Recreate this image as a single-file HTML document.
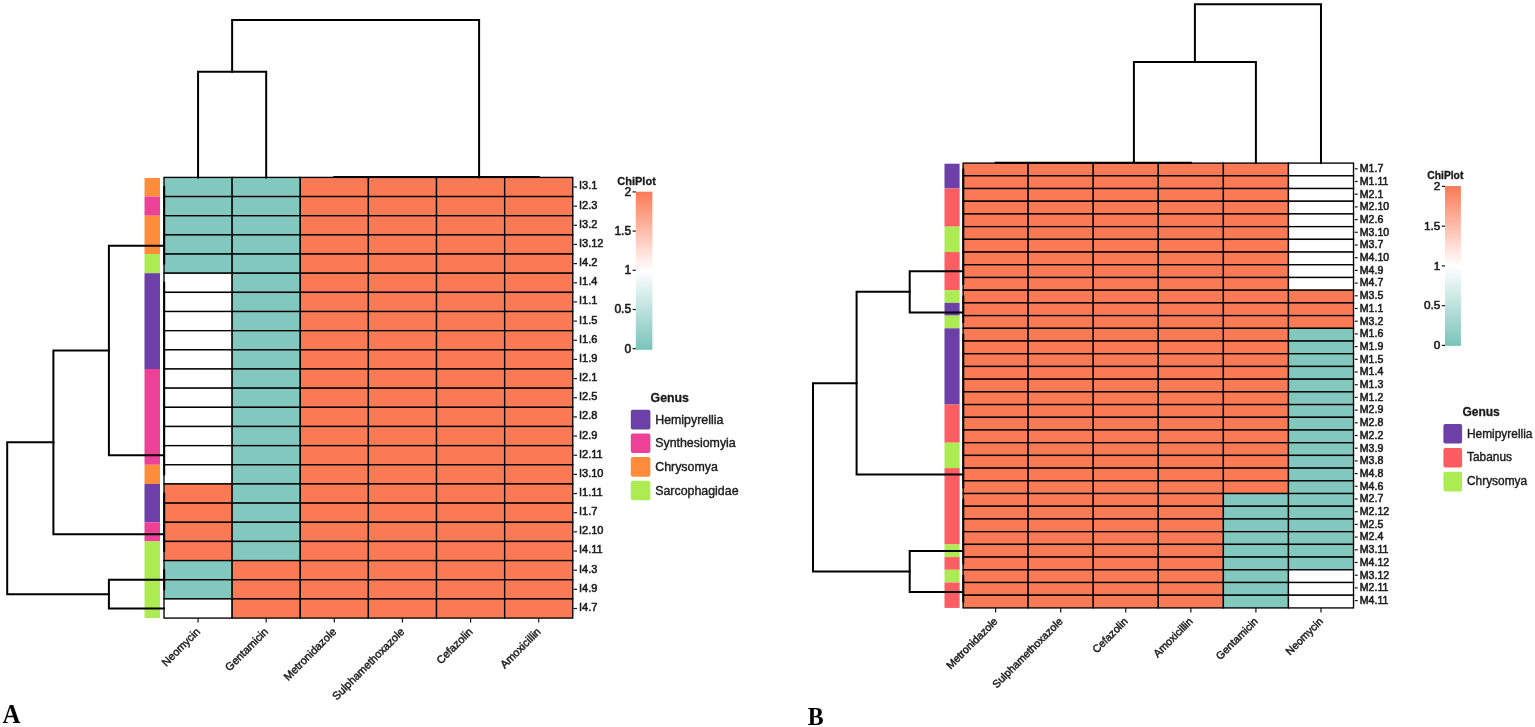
<!DOCTYPE html>
<html><head><meta charset="utf-8"><title>Heatmaps</title>
<style>
html,body{margin:0;padding:0;background:#fff;}
svg{display:block;font-family:"Liberation Sans",sans-serif;}
text{fill:#1a1a1a;stroke:#1a1a1a;stroke-width:0.45px;}
.r{stroke-width:0.55px;}
.l{stroke-width:0.38px;}
text[font-weight=bold]{stroke-width:0.3px;}
</style></head><body>
<svg width="1535" height="727" viewBox="0 0 1535 727">
<defs><linearGradient id="cg" x1="0" y1="0" x2="0" y2="1"><stop offset="0" stop-color="#FB7A56"/><stop offset="0.5" stop-color="#fff"/><stop offset="1" stop-color="#79C4BA"/></linearGradient></defs>
<rect width="1535" height="727" fill="#fff"/>
<rect x="164.00" y="177.40" width="68.13" height="19.16" fill="#82C8BF" stroke="#000" stroke-width="1.35"/>
<rect x="232.13" y="177.40" width="68.13" height="19.16" fill="#82C8BF" stroke="#000" stroke-width="1.35"/>
<rect x="300.26" y="177.40" width="68.13" height="19.16" fill="#FB7A56" stroke="#000" stroke-width="1.35"/>
<rect x="368.39" y="177.40" width="68.13" height="19.16" fill="#FB7A56" stroke="#000" stroke-width="1.35"/>
<rect x="436.52" y="177.40" width="68.13" height="19.16" fill="#FB7A56" stroke="#000" stroke-width="1.35"/>
<rect x="504.65" y="177.40" width="68.13" height="19.16" fill="#FB7A56" stroke="#000" stroke-width="1.35"/>
<rect x="164.00" y="196.56" width="68.13" height="19.16" fill="#82C8BF" stroke="#000" stroke-width="1.35"/>
<rect x="232.13" y="196.56" width="68.13" height="19.16" fill="#82C8BF" stroke="#000" stroke-width="1.35"/>
<rect x="300.26" y="196.56" width="68.13" height="19.16" fill="#FB7A56" stroke="#000" stroke-width="1.35"/>
<rect x="368.39" y="196.56" width="68.13" height="19.16" fill="#FB7A56" stroke="#000" stroke-width="1.35"/>
<rect x="436.52" y="196.56" width="68.13" height="19.16" fill="#FB7A56" stroke="#000" stroke-width="1.35"/>
<rect x="504.65" y="196.56" width="68.13" height="19.16" fill="#FB7A56" stroke="#000" stroke-width="1.35"/>
<rect x="164.00" y="215.72" width="68.13" height="19.16" fill="#82C8BF" stroke="#000" stroke-width="1.35"/>
<rect x="232.13" y="215.72" width="68.13" height="19.16" fill="#82C8BF" stroke="#000" stroke-width="1.35"/>
<rect x="300.26" y="215.72" width="68.13" height="19.16" fill="#FB7A56" stroke="#000" stroke-width="1.35"/>
<rect x="368.39" y="215.72" width="68.13" height="19.16" fill="#FB7A56" stroke="#000" stroke-width="1.35"/>
<rect x="436.52" y="215.72" width="68.13" height="19.16" fill="#FB7A56" stroke="#000" stroke-width="1.35"/>
<rect x="504.65" y="215.72" width="68.13" height="19.16" fill="#FB7A56" stroke="#000" stroke-width="1.35"/>
<rect x="164.00" y="234.88" width="68.13" height="19.16" fill="#82C8BF" stroke="#000" stroke-width="1.35"/>
<rect x="232.13" y="234.88" width="68.13" height="19.16" fill="#82C8BF" stroke="#000" stroke-width="1.35"/>
<rect x="300.26" y="234.88" width="68.13" height="19.16" fill="#FB7A56" stroke="#000" stroke-width="1.35"/>
<rect x="368.39" y="234.88" width="68.13" height="19.16" fill="#FB7A56" stroke="#000" stroke-width="1.35"/>
<rect x="436.52" y="234.88" width="68.13" height="19.16" fill="#FB7A56" stroke="#000" stroke-width="1.35"/>
<rect x="504.65" y="234.88" width="68.13" height="19.16" fill="#FB7A56" stroke="#000" stroke-width="1.35"/>
<rect x="164.00" y="254.04" width="68.13" height="19.16" fill="#82C8BF" stroke="#000" stroke-width="1.35"/>
<rect x="232.13" y="254.04" width="68.13" height="19.16" fill="#82C8BF" stroke="#000" stroke-width="1.35"/>
<rect x="300.26" y="254.04" width="68.13" height="19.16" fill="#FB7A56" stroke="#000" stroke-width="1.35"/>
<rect x="368.39" y="254.04" width="68.13" height="19.16" fill="#FB7A56" stroke="#000" stroke-width="1.35"/>
<rect x="436.52" y="254.04" width="68.13" height="19.16" fill="#FB7A56" stroke="#000" stroke-width="1.35"/>
<rect x="504.65" y="254.04" width="68.13" height="19.16" fill="#FB7A56" stroke="#000" stroke-width="1.35"/>
<rect x="164.00" y="273.20" width="68.13" height="19.16" fill="#FFFFFF" stroke="#000" stroke-width="1.35"/>
<rect x="232.13" y="273.20" width="68.13" height="19.16" fill="#82C8BF" stroke="#000" stroke-width="1.35"/>
<rect x="300.26" y="273.20" width="68.13" height="19.16" fill="#FB7A56" stroke="#000" stroke-width="1.35"/>
<rect x="368.39" y="273.20" width="68.13" height="19.16" fill="#FB7A56" stroke="#000" stroke-width="1.35"/>
<rect x="436.52" y="273.20" width="68.13" height="19.16" fill="#FB7A56" stroke="#000" stroke-width="1.35"/>
<rect x="504.65" y="273.20" width="68.13" height="19.16" fill="#FB7A56" stroke="#000" stroke-width="1.35"/>
<rect x="164.00" y="292.36" width="68.13" height="19.16" fill="#FFFFFF" stroke="#000" stroke-width="1.35"/>
<rect x="232.13" y="292.36" width="68.13" height="19.16" fill="#82C8BF" stroke="#000" stroke-width="1.35"/>
<rect x="300.26" y="292.36" width="68.13" height="19.16" fill="#FB7A56" stroke="#000" stroke-width="1.35"/>
<rect x="368.39" y="292.36" width="68.13" height="19.16" fill="#FB7A56" stroke="#000" stroke-width="1.35"/>
<rect x="436.52" y="292.36" width="68.13" height="19.16" fill="#FB7A56" stroke="#000" stroke-width="1.35"/>
<rect x="504.65" y="292.36" width="68.13" height="19.16" fill="#FB7A56" stroke="#000" stroke-width="1.35"/>
<rect x="164.00" y="311.52" width="68.13" height="19.16" fill="#FFFFFF" stroke="#000" stroke-width="1.35"/>
<rect x="232.13" y="311.52" width="68.13" height="19.16" fill="#82C8BF" stroke="#000" stroke-width="1.35"/>
<rect x="300.26" y="311.52" width="68.13" height="19.16" fill="#FB7A56" stroke="#000" stroke-width="1.35"/>
<rect x="368.39" y="311.52" width="68.13" height="19.16" fill="#FB7A56" stroke="#000" stroke-width="1.35"/>
<rect x="436.52" y="311.52" width="68.13" height="19.16" fill="#FB7A56" stroke="#000" stroke-width="1.35"/>
<rect x="504.65" y="311.52" width="68.13" height="19.16" fill="#FB7A56" stroke="#000" stroke-width="1.35"/>
<rect x="164.00" y="330.68" width="68.13" height="19.16" fill="#FFFFFF" stroke="#000" stroke-width="1.35"/>
<rect x="232.13" y="330.68" width="68.13" height="19.16" fill="#82C8BF" stroke="#000" stroke-width="1.35"/>
<rect x="300.26" y="330.68" width="68.13" height="19.16" fill="#FB7A56" stroke="#000" stroke-width="1.35"/>
<rect x="368.39" y="330.68" width="68.13" height="19.16" fill="#FB7A56" stroke="#000" stroke-width="1.35"/>
<rect x="436.52" y="330.68" width="68.13" height="19.16" fill="#FB7A56" stroke="#000" stroke-width="1.35"/>
<rect x="504.65" y="330.68" width="68.13" height="19.16" fill="#FB7A56" stroke="#000" stroke-width="1.35"/>
<rect x="164.00" y="349.84" width="68.13" height="19.16" fill="#FFFFFF" stroke="#000" stroke-width="1.35"/>
<rect x="232.13" y="349.84" width="68.13" height="19.16" fill="#82C8BF" stroke="#000" stroke-width="1.35"/>
<rect x="300.26" y="349.84" width="68.13" height="19.16" fill="#FB7A56" stroke="#000" stroke-width="1.35"/>
<rect x="368.39" y="349.84" width="68.13" height="19.16" fill="#FB7A56" stroke="#000" stroke-width="1.35"/>
<rect x="436.52" y="349.84" width="68.13" height="19.16" fill="#FB7A56" stroke="#000" stroke-width="1.35"/>
<rect x="504.65" y="349.84" width="68.13" height="19.16" fill="#FB7A56" stroke="#000" stroke-width="1.35"/>
<rect x="164.00" y="369.00" width="68.13" height="19.16" fill="#FFFFFF" stroke="#000" stroke-width="1.35"/>
<rect x="232.13" y="369.00" width="68.13" height="19.16" fill="#82C8BF" stroke="#000" stroke-width="1.35"/>
<rect x="300.26" y="369.00" width="68.13" height="19.16" fill="#FB7A56" stroke="#000" stroke-width="1.35"/>
<rect x="368.39" y="369.00" width="68.13" height="19.16" fill="#FB7A56" stroke="#000" stroke-width="1.35"/>
<rect x="436.52" y="369.00" width="68.13" height="19.16" fill="#FB7A56" stroke="#000" stroke-width="1.35"/>
<rect x="504.65" y="369.00" width="68.13" height="19.16" fill="#FB7A56" stroke="#000" stroke-width="1.35"/>
<rect x="164.00" y="388.16" width="68.13" height="19.16" fill="#FFFFFF" stroke="#000" stroke-width="1.35"/>
<rect x="232.13" y="388.16" width="68.13" height="19.16" fill="#82C8BF" stroke="#000" stroke-width="1.35"/>
<rect x="300.26" y="388.16" width="68.13" height="19.16" fill="#FB7A56" stroke="#000" stroke-width="1.35"/>
<rect x="368.39" y="388.16" width="68.13" height="19.16" fill="#FB7A56" stroke="#000" stroke-width="1.35"/>
<rect x="436.52" y="388.16" width="68.13" height="19.16" fill="#FB7A56" stroke="#000" stroke-width="1.35"/>
<rect x="504.65" y="388.16" width="68.13" height="19.16" fill="#FB7A56" stroke="#000" stroke-width="1.35"/>
<rect x="164.00" y="407.32" width="68.13" height="19.16" fill="#FFFFFF" stroke="#000" stroke-width="1.35"/>
<rect x="232.13" y="407.32" width="68.13" height="19.16" fill="#82C8BF" stroke="#000" stroke-width="1.35"/>
<rect x="300.26" y="407.32" width="68.13" height="19.16" fill="#FB7A56" stroke="#000" stroke-width="1.35"/>
<rect x="368.39" y="407.32" width="68.13" height="19.16" fill="#FB7A56" stroke="#000" stroke-width="1.35"/>
<rect x="436.52" y="407.32" width="68.13" height="19.16" fill="#FB7A56" stroke="#000" stroke-width="1.35"/>
<rect x="504.65" y="407.32" width="68.13" height="19.16" fill="#FB7A56" stroke="#000" stroke-width="1.35"/>
<rect x="164.00" y="426.48" width="68.13" height="19.16" fill="#FFFFFF" stroke="#000" stroke-width="1.35"/>
<rect x="232.13" y="426.48" width="68.13" height="19.16" fill="#82C8BF" stroke="#000" stroke-width="1.35"/>
<rect x="300.26" y="426.48" width="68.13" height="19.16" fill="#FB7A56" stroke="#000" stroke-width="1.35"/>
<rect x="368.39" y="426.48" width="68.13" height="19.16" fill="#FB7A56" stroke="#000" stroke-width="1.35"/>
<rect x="436.52" y="426.48" width="68.13" height="19.16" fill="#FB7A56" stroke="#000" stroke-width="1.35"/>
<rect x="504.65" y="426.48" width="68.13" height="19.16" fill="#FB7A56" stroke="#000" stroke-width="1.35"/>
<rect x="164.00" y="445.64" width="68.13" height="19.16" fill="#FFFFFF" stroke="#000" stroke-width="1.35"/>
<rect x="232.13" y="445.64" width="68.13" height="19.16" fill="#82C8BF" stroke="#000" stroke-width="1.35"/>
<rect x="300.26" y="445.64" width="68.13" height="19.16" fill="#FB7A56" stroke="#000" stroke-width="1.35"/>
<rect x="368.39" y="445.64" width="68.13" height="19.16" fill="#FB7A56" stroke="#000" stroke-width="1.35"/>
<rect x="436.52" y="445.64" width="68.13" height="19.16" fill="#FB7A56" stroke="#000" stroke-width="1.35"/>
<rect x="504.65" y="445.64" width="68.13" height="19.16" fill="#FB7A56" stroke="#000" stroke-width="1.35"/>
<rect x="164.00" y="464.80" width="68.13" height="19.16" fill="#FFFFFF" stroke="#000" stroke-width="1.35"/>
<rect x="232.13" y="464.80" width="68.13" height="19.16" fill="#82C8BF" stroke="#000" stroke-width="1.35"/>
<rect x="300.26" y="464.80" width="68.13" height="19.16" fill="#FB7A56" stroke="#000" stroke-width="1.35"/>
<rect x="368.39" y="464.80" width="68.13" height="19.16" fill="#FB7A56" stroke="#000" stroke-width="1.35"/>
<rect x="436.52" y="464.80" width="68.13" height="19.16" fill="#FB7A56" stroke="#000" stroke-width="1.35"/>
<rect x="504.65" y="464.80" width="68.13" height="19.16" fill="#FB7A56" stroke="#000" stroke-width="1.35"/>
<rect x="164.00" y="483.96" width="68.13" height="19.16" fill="#FB7A56" stroke="#000" stroke-width="1.35"/>
<rect x="232.13" y="483.96" width="68.13" height="19.16" fill="#82C8BF" stroke="#000" stroke-width="1.35"/>
<rect x="300.26" y="483.96" width="68.13" height="19.16" fill="#FB7A56" stroke="#000" stroke-width="1.35"/>
<rect x="368.39" y="483.96" width="68.13" height="19.16" fill="#FB7A56" stroke="#000" stroke-width="1.35"/>
<rect x="436.52" y="483.96" width="68.13" height="19.16" fill="#FB7A56" stroke="#000" stroke-width="1.35"/>
<rect x="504.65" y="483.96" width="68.13" height="19.16" fill="#FB7A56" stroke="#000" stroke-width="1.35"/>
<rect x="164.00" y="503.12" width="68.13" height="19.16" fill="#FB7A56" stroke="#000" stroke-width="1.35"/>
<rect x="232.13" y="503.12" width="68.13" height="19.16" fill="#82C8BF" stroke="#000" stroke-width="1.35"/>
<rect x="300.26" y="503.12" width="68.13" height="19.16" fill="#FB7A56" stroke="#000" stroke-width="1.35"/>
<rect x="368.39" y="503.12" width="68.13" height="19.16" fill="#FB7A56" stroke="#000" stroke-width="1.35"/>
<rect x="436.52" y="503.12" width="68.13" height="19.16" fill="#FB7A56" stroke="#000" stroke-width="1.35"/>
<rect x="504.65" y="503.12" width="68.13" height="19.16" fill="#FB7A56" stroke="#000" stroke-width="1.35"/>
<rect x="164.00" y="522.28" width="68.13" height="19.16" fill="#FB7A56" stroke="#000" stroke-width="1.35"/>
<rect x="232.13" y="522.28" width="68.13" height="19.16" fill="#82C8BF" stroke="#000" stroke-width="1.35"/>
<rect x="300.26" y="522.28" width="68.13" height="19.16" fill="#FB7A56" stroke="#000" stroke-width="1.35"/>
<rect x="368.39" y="522.28" width="68.13" height="19.16" fill="#FB7A56" stroke="#000" stroke-width="1.35"/>
<rect x="436.52" y="522.28" width="68.13" height="19.16" fill="#FB7A56" stroke="#000" stroke-width="1.35"/>
<rect x="504.65" y="522.28" width="68.13" height="19.16" fill="#FB7A56" stroke="#000" stroke-width="1.35"/>
<rect x="164.00" y="541.44" width="68.13" height="19.16" fill="#FB7A56" stroke="#000" stroke-width="1.35"/>
<rect x="232.13" y="541.44" width="68.13" height="19.16" fill="#82C8BF" stroke="#000" stroke-width="1.35"/>
<rect x="300.26" y="541.44" width="68.13" height="19.16" fill="#FB7A56" stroke="#000" stroke-width="1.35"/>
<rect x="368.39" y="541.44" width="68.13" height="19.16" fill="#FB7A56" stroke="#000" stroke-width="1.35"/>
<rect x="436.52" y="541.44" width="68.13" height="19.16" fill="#FB7A56" stroke="#000" stroke-width="1.35"/>
<rect x="504.65" y="541.44" width="68.13" height="19.16" fill="#FB7A56" stroke="#000" stroke-width="1.35"/>
<rect x="164.00" y="560.60" width="68.13" height="19.16" fill="#82C8BF" stroke="#000" stroke-width="1.35"/>
<rect x="232.13" y="560.60" width="68.13" height="19.16" fill="#FB7A56" stroke="#000" stroke-width="1.35"/>
<rect x="300.26" y="560.60" width="68.13" height="19.16" fill="#FB7A56" stroke="#000" stroke-width="1.35"/>
<rect x="368.39" y="560.60" width="68.13" height="19.16" fill="#FB7A56" stroke="#000" stroke-width="1.35"/>
<rect x="436.52" y="560.60" width="68.13" height="19.16" fill="#FB7A56" stroke="#000" stroke-width="1.35"/>
<rect x="504.65" y="560.60" width="68.13" height="19.16" fill="#FB7A56" stroke="#000" stroke-width="1.35"/>
<rect x="164.00" y="579.76" width="68.13" height="19.16" fill="#82C8BF" stroke="#000" stroke-width="1.35"/>
<rect x="232.13" y="579.76" width="68.13" height="19.16" fill="#FB7A56" stroke="#000" stroke-width="1.35"/>
<rect x="300.26" y="579.76" width="68.13" height="19.16" fill="#FB7A56" stroke="#000" stroke-width="1.35"/>
<rect x="368.39" y="579.76" width="68.13" height="19.16" fill="#FB7A56" stroke="#000" stroke-width="1.35"/>
<rect x="436.52" y="579.76" width="68.13" height="19.16" fill="#FB7A56" stroke="#000" stroke-width="1.35"/>
<rect x="504.65" y="579.76" width="68.13" height="19.16" fill="#FB7A56" stroke="#000" stroke-width="1.35"/>
<rect x="164.00" y="598.92" width="68.13" height="19.16" fill="#FFFFFF" stroke="#000" stroke-width="1.35"/>
<rect x="232.13" y="598.92" width="68.13" height="19.16" fill="#FB7A56" stroke="#000" stroke-width="1.35"/>
<rect x="300.26" y="598.92" width="68.13" height="19.16" fill="#FB7A56" stroke="#000" stroke-width="1.35"/>
<rect x="368.39" y="598.92" width="68.13" height="19.16" fill="#FB7A56" stroke="#000" stroke-width="1.35"/>
<rect x="436.52" y="598.92" width="68.13" height="19.16" fill="#FB7A56" stroke="#000" stroke-width="1.35"/>
<rect x="504.65" y="598.92" width="68.13" height="19.16" fill="#FB7A56" stroke="#000" stroke-width="1.35"/>
<rect x="144.5" y="178.00" width="15.5" height="18.56" fill="#FF8C3A"/>
<rect x="144.5" y="196.56" width="15.5" height="19.16" fill="#EC4197"/>
<rect x="144.5" y="215.72" width="15.5" height="38.32" fill="#FF8C3A"/>
<rect x="144.5" y="254.04" width="15.5" height="19.16" fill="#ADEB52"/>
<rect x="144.5" y="273.20" width="15.5" height="95.80" fill="#6C3FA9"/>
<rect x="144.5" y="369.00" width="15.5" height="95.80" fill="#EC4197"/>
<rect x="144.5" y="464.80" width="15.5" height="19.16" fill="#FF8C3A"/>
<rect x="144.5" y="483.96" width="15.5" height="38.32" fill="#6C3FA9"/>
<rect x="144.5" y="522.28" width="15.5" height="19.16" fill="#EC4197"/>
<rect x="144.5" y="541.44" width="15.5" height="76.64" fill="#ADEB52"/>
<line x1="573.5" y1="186.98" x2="577" y2="186.98" stroke="#151515" stroke-width="1.2"/>
<text x="579" y="189.44" font-size="11" class="r">I3.1</text>
<line x1="573.5" y1="206.14" x2="577" y2="206.14" stroke="#151515" stroke-width="1.2"/>
<text x="579" y="208.60" font-size="11" class="r">I2.3</text>
<line x1="573.5" y1="225.30" x2="577" y2="225.30" stroke="#151515" stroke-width="1.2"/>
<text x="579" y="227.76" font-size="11" class="r">I3.2</text>
<line x1="573.5" y1="244.46" x2="577" y2="244.46" stroke="#151515" stroke-width="1.2"/>
<text x="579" y="246.92" font-size="11" class="r">I3.12</text>
<line x1="573.5" y1="263.62" x2="577" y2="263.62" stroke="#151515" stroke-width="1.2"/>
<text x="579" y="266.08" font-size="11" class="r">I4.2</text>
<line x1="573.5" y1="282.78" x2="577" y2="282.78" stroke="#151515" stroke-width="1.2"/>
<text x="579" y="285.24" font-size="11" class="r">I1.4</text>
<line x1="573.5" y1="301.94" x2="577" y2="301.94" stroke="#151515" stroke-width="1.2"/>
<text x="579" y="304.40" font-size="11" class="r">I1.1</text>
<line x1="573.5" y1="321.10" x2="577" y2="321.10" stroke="#151515" stroke-width="1.2"/>
<text x="579" y="323.56" font-size="11" class="r">I1.5</text>
<line x1="573.5" y1="340.26" x2="577" y2="340.26" stroke="#151515" stroke-width="1.2"/>
<text x="579" y="342.72" font-size="11" class="r">I1.6</text>
<line x1="573.5" y1="359.42" x2="577" y2="359.42" stroke="#151515" stroke-width="1.2"/>
<text x="579" y="361.88" font-size="11" class="r">I1.9</text>
<line x1="573.5" y1="378.58" x2="577" y2="378.58" stroke="#151515" stroke-width="1.2"/>
<text x="579" y="381.04" font-size="11" class="r">I2.1</text>
<line x1="573.5" y1="397.74" x2="577" y2="397.74" stroke="#151515" stroke-width="1.2"/>
<text x="579" y="400.20" font-size="11" class="r">I2.5</text>
<line x1="573.5" y1="416.90" x2="577" y2="416.90" stroke="#151515" stroke-width="1.2"/>
<text x="579" y="419.36" font-size="11" class="r">I2.8</text>
<line x1="573.5" y1="436.06" x2="577" y2="436.06" stroke="#151515" stroke-width="1.2"/>
<text x="579" y="438.52" font-size="11" class="r">I2.9</text>
<line x1="573.5" y1="455.22" x2="577" y2="455.22" stroke="#151515" stroke-width="1.2"/>
<text x="579" y="457.68" font-size="11" class="r">I2.11</text>
<line x1="573.5" y1="474.38" x2="577" y2="474.38" stroke="#151515" stroke-width="1.2"/>
<text x="579" y="476.84" font-size="11" class="r">I3.10</text>
<line x1="573.5" y1="493.54" x2="577" y2="493.54" stroke="#151515" stroke-width="1.2"/>
<text x="579" y="496.00" font-size="11" class="r">I1.11</text>
<line x1="573.5" y1="512.70" x2="577" y2="512.70" stroke="#151515" stroke-width="1.2"/>
<text x="579" y="515.16" font-size="11" class="r">I1.7</text>
<line x1="573.5" y1="531.86" x2="577" y2="531.86" stroke="#151515" stroke-width="1.2"/>
<text x="579" y="534.32" font-size="11" class="r">I2.10</text>
<line x1="573.5" y1="551.02" x2="577" y2="551.02" stroke="#151515" stroke-width="1.2"/>
<text x="579" y="553.48" font-size="11" class="r">I4.11</text>
<line x1="573.5" y1="570.18" x2="577" y2="570.18" stroke="#151515" stroke-width="1.2"/>
<text x="579" y="572.64" font-size="11" class="r">I4.3</text>
<line x1="573.5" y1="589.34" x2="577" y2="589.34" stroke="#151515" stroke-width="1.2"/>
<text x="579" y="591.80" font-size="11" class="r">I4.9</text>
<line x1="573.5" y1="608.50" x2="577" y2="608.50" stroke="#151515" stroke-width="1.2"/>
<text x="579" y="610.96" font-size="11" class="r">I4.7</text>
<line x1="198.06" y1="618.08" x2="198.06" y2="622.58" stroke="#151515" stroke-width="1.2"/>
<text transform="translate(198.06,629.58) rotate(-45)" text-anchor="end" font-size="11" dy="0.35em">Neomycin</text>
<line x1="266.19" y1="618.08" x2="266.19" y2="622.58" stroke="#151515" stroke-width="1.2"/>
<text transform="translate(266.19,629.58) rotate(-45)" text-anchor="end" font-size="11" dy="0.35em">Gentamicin</text>
<line x1="334.32" y1="618.08" x2="334.32" y2="622.58" stroke="#151515" stroke-width="1.2"/>
<text transform="translate(334.32,629.58) rotate(-45)" text-anchor="end" font-size="11" dy="0.35em">Metronidazole</text>
<line x1="402.45" y1="618.08" x2="402.45" y2="622.58" stroke="#151515" stroke-width="1.2"/>
<text transform="translate(402.45,629.58) rotate(-45)" text-anchor="end" font-size="11" dy="0.35em">Sulphamethoxazole</text>
<line x1="470.58" y1="618.08" x2="470.58" y2="622.58" stroke="#151515" stroke-width="1.2"/>
<text transform="translate(470.58,629.58) rotate(-45)" text-anchor="end" font-size="11" dy="0.35em">Cefazolin</text>
<line x1="538.71" y1="618.08" x2="538.71" y2="622.58" stroke="#151515" stroke-width="1.2"/>
<text transform="translate(538.71,629.58) rotate(-45)" text-anchor="end" font-size="11" dy="0.35em">Amoxicillin</text>
<path d="M164.0,245.66 H108.9 V455.24 H164.0" fill="none" stroke="#000" stroke-width="2.0" stroke-linejoin="miter" stroke-linecap="square"/>
<path d="M108.9,350.45 H53.4 V534.25 H164.0" fill="none" stroke="#000" stroke-width="2.0" stroke-linejoin="miter" stroke-linecap="square"/>
<path d="M164.0,579.76 H108.9 V608.50 H164.0" fill="none" stroke="#000" stroke-width="2.0" stroke-linejoin="miter" stroke-linecap="square"/>
<path d="M53.4,442.35 H7.2 V594.13 H108.9" fill="none" stroke="#000" stroke-width="2.0" stroke-linejoin="miter" stroke-linecap="square"/>
<path d="M164.2,186.98 V263.62" fill="none" stroke="#000" stroke-width="2.0" stroke-linejoin="miter" stroke-linecap="square"/>
<path d="M164.2,282.78 V474.38" fill="none" stroke="#000" stroke-width="2.0" stroke-linejoin="miter" stroke-linecap="square"/>
<path d="M164.2,493.54 V551.02" fill="none" stroke="#000" stroke-width="2.0" stroke-linejoin="miter" stroke-linecap="square"/>
<path d="M164.2,570.18 V589.34" fill="none" stroke="#000" stroke-width="2.0" stroke-linejoin="miter" stroke-linecap="square"/>
<path d="M198.06,177.4 V71.8 H266.19 V177.4" fill="none" stroke="#000" stroke-width="2.0" stroke-linejoin="miter" stroke-linecap="square"/>
<path d="M232.13,71.8 V19.9 H479.10 V177.4" fill="none" stroke="#000" stroke-width="2.0" stroke-linejoin="miter" stroke-linecap="square"/>
<path d="M334.32,177.1 H538.71" fill="none" stroke="#000" stroke-width="2.0" stroke-linejoin="miter" stroke-linecap="square"/>
<rect x="963.10" y="163.10" width="65.07" height="12.71" fill="#FB7A56" stroke="#000" stroke-width="1.35"/>
<rect x="1028.17" y="163.10" width="65.07" height="12.71" fill="#FB7A56" stroke="#000" stroke-width="1.35"/>
<rect x="1093.24" y="163.10" width="65.07" height="12.71" fill="#FB7A56" stroke="#000" stroke-width="1.35"/>
<rect x="1158.31" y="163.10" width="65.07" height="12.71" fill="#FB7A56" stroke="#000" stroke-width="1.35"/>
<rect x="1223.38" y="163.10" width="65.07" height="12.71" fill="#FB7A56" stroke="#000" stroke-width="1.35"/>
<rect x="1288.45" y="163.10" width="65.07" height="12.71" fill="#FFFFFF" stroke="#000" stroke-width="1.35"/>
<rect x="963.10" y="175.81" width="65.07" height="12.71" fill="#FB7A56" stroke="#000" stroke-width="1.35"/>
<rect x="1028.17" y="175.81" width="65.07" height="12.71" fill="#FB7A56" stroke="#000" stroke-width="1.35"/>
<rect x="1093.24" y="175.81" width="65.07" height="12.71" fill="#FB7A56" stroke="#000" stroke-width="1.35"/>
<rect x="1158.31" y="175.81" width="65.07" height="12.71" fill="#FB7A56" stroke="#000" stroke-width="1.35"/>
<rect x="1223.38" y="175.81" width="65.07" height="12.71" fill="#FB7A56" stroke="#000" stroke-width="1.35"/>
<rect x="1288.45" y="175.81" width="65.07" height="12.71" fill="#FFFFFF" stroke="#000" stroke-width="1.35"/>
<rect x="963.10" y="188.52" width="65.07" height="12.71" fill="#FB7A56" stroke="#000" stroke-width="1.35"/>
<rect x="1028.17" y="188.52" width="65.07" height="12.71" fill="#FB7A56" stroke="#000" stroke-width="1.35"/>
<rect x="1093.24" y="188.52" width="65.07" height="12.71" fill="#FB7A56" stroke="#000" stroke-width="1.35"/>
<rect x="1158.31" y="188.52" width="65.07" height="12.71" fill="#FB7A56" stroke="#000" stroke-width="1.35"/>
<rect x="1223.38" y="188.52" width="65.07" height="12.71" fill="#FB7A56" stroke="#000" stroke-width="1.35"/>
<rect x="1288.45" y="188.52" width="65.07" height="12.71" fill="#FFFFFF" stroke="#000" stroke-width="1.35"/>
<rect x="963.10" y="201.23" width="65.07" height="12.71" fill="#FB7A56" stroke="#000" stroke-width="1.35"/>
<rect x="1028.17" y="201.23" width="65.07" height="12.71" fill="#FB7A56" stroke="#000" stroke-width="1.35"/>
<rect x="1093.24" y="201.23" width="65.07" height="12.71" fill="#FB7A56" stroke="#000" stroke-width="1.35"/>
<rect x="1158.31" y="201.23" width="65.07" height="12.71" fill="#FB7A56" stroke="#000" stroke-width="1.35"/>
<rect x="1223.38" y="201.23" width="65.07" height="12.71" fill="#FB7A56" stroke="#000" stroke-width="1.35"/>
<rect x="1288.45" y="201.23" width="65.07" height="12.71" fill="#FFFFFF" stroke="#000" stroke-width="1.35"/>
<rect x="963.10" y="213.94" width="65.07" height="12.71" fill="#FB7A56" stroke="#000" stroke-width="1.35"/>
<rect x="1028.17" y="213.94" width="65.07" height="12.71" fill="#FB7A56" stroke="#000" stroke-width="1.35"/>
<rect x="1093.24" y="213.94" width="65.07" height="12.71" fill="#FB7A56" stroke="#000" stroke-width="1.35"/>
<rect x="1158.31" y="213.94" width="65.07" height="12.71" fill="#FB7A56" stroke="#000" stroke-width="1.35"/>
<rect x="1223.38" y="213.94" width="65.07" height="12.71" fill="#FB7A56" stroke="#000" stroke-width="1.35"/>
<rect x="1288.45" y="213.94" width="65.07" height="12.71" fill="#FFFFFF" stroke="#000" stroke-width="1.35"/>
<rect x="963.10" y="226.64" width="65.07" height="12.71" fill="#FB7A56" stroke="#000" stroke-width="1.35"/>
<rect x="1028.17" y="226.64" width="65.07" height="12.71" fill="#FB7A56" stroke="#000" stroke-width="1.35"/>
<rect x="1093.24" y="226.64" width="65.07" height="12.71" fill="#FB7A56" stroke="#000" stroke-width="1.35"/>
<rect x="1158.31" y="226.64" width="65.07" height="12.71" fill="#FB7A56" stroke="#000" stroke-width="1.35"/>
<rect x="1223.38" y="226.64" width="65.07" height="12.71" fill="#FB7A56" stroke="#000" stroke-width="1.35"/>
<rect x="1288.45" y="226.64" width="65.07" height="12.71" fill="#FFFFFF" stroke="#000" stroke-width="1.35"/>
<rect x="963.10" y="239.35" width="65.07" height="12.71" fill="#FB7A56" stroke="#000" stroke-width="1.35"/>
<rect x="1028.17" y="239.35" width="65.07" height="12.71" fill="#FB7A56" stroke="#000" stroke-width="1.35"/>
<rect x="1093.24" y="239.35" width="65.07" height="12.71" fill="#FB7A56" stroke="#000" stroke-width="1.35"/>
<rect x="1158.31" y="239.35" width="65.07" height="12.71" fill="#FB7A56" stroke="#000" stroke-width="1.35"/>
<rect x="1223.38" y="239.35" width="65.07" height="12.71" fill="#FB7A56" stroke="#000" stroke-width="1.35"/>
<rect x="1288.45" y="239.35" width="65.07" height="12.71" fill="#FFFFFF" stroke="#000" stroke-width="1.35"/>
<rect x="963.10" y="252.06" width="65.07" height="12.71" fill="#FB7A56" stroke="#000" stroke-width="1.35"/>
<rect x="1028.17" y="252.06" width="65.07" height="12.71" fill="#FB7A56" stroke="#000" stroke-width="1.35"/>
<rect x="1093.24" y="252.06" width="65.07" height="12.71" fill="#FB7A56" stroke="#000" stroke-width="1.35"/>
<rect x="1158.31" y="252.06" width="65.07" height="12.71" fill="#FB7A56" stroke="#000" stroke-width="1.35"/>
<rect x="1223.38" y="252.06" width="65.07" height="12.71" fill="#FB7A56" stroke="#000" stroke-width="1.35"/>
<rect x="1288.45" y="252.06" width="65.07" height="12.71" fill="#FFFFFF" stroke="#000" stroke-width="1.35"/>
<rect x="963.10" y="264.77" width="65.07" height="12.71" fill="#FB7A56" stroke="#000" stroke-width="1.35"/>
<rect x="1028.17" y="264.77" width="65.07" height="12.71" fill="#FB7A56" stroke="#000" stroke-width="1.35"/>
<rect x="1093.24" y="264.77" width="65.07" height="12.71" fill="#FB7A56" stroke="#000" stroke-width="1.35"/>
<rect x="1158.31" y="264.77" width="65.07" height="12.71" fill="#FB7A56" stroke="#000" stroke-width="1.35"/>
<rect x="1223.38" y="264.77" width="65.07" height="12.71" fill="#FB7A56" stroke="#000" stroke-width="1.35"/>
<rect x="1288.45" y="264.77" width="65.07" height="12.71" fill="#FFFFFF" stroke="#000" stroke-width="1.35"/>
<rect x="963.10" y="277.48" width="65.07" height="12.71" fill="#FB7A56" stroke="#000" stroke-width="1.35"/>
<rect x="1028.17" y="277.48" width="65.07" height="12.71" fill="#FB7A56" stroke="#000" stroke-width="1.35"/>
<rect x="1093.24" y="277.48" width="65.07" height="12.71" fill="#FB7A56" stroke="#000" stroke-width="1.35"/>
<rect x="1158.31" y="277.48" width="65.07" height="12.71" fill="#FB7A56" stroke="#000" stroke-width="1.35"/>
<rect x="1223.38" y="277.48" width="65.07" height="12.71" fill="#FB7A56" stroke="#000" stroke-width="1.35"/>
<rect x="1288.45" y="277.48" width="65.07" height="12.71" fill="#FFFFFF" stroke="#000" stroke-width="1.35"/>
<rect x="963.10" y="290.19" width="65.07" height="12.71" fill="#FB7A56" stroke="#000" stroke-width="1.35"/>
<rect x="1028.17" y="290.19" width="65.07" height="12.71" fill="#FB7A56" stroke="#000" stroke-width="1.35"/>
<rect x="1093.24" y="290.19" width="65.07" height="12.71" fill="#FB7A56" stroke="#000" stroke-width="1.35"/>
<rect x="1158.31" y="290.19" width="65.07" height="12.71" fill="#FB7A56" stroke="#000" stroke-width="1.35"/>
<rect x="1223.38" y="290.19" width="65.07" height="12.71" fill="#FB7A56" stroke="#000" stroke-width="1.35"/>
<rect x="1288.45" y="290.19" width="65.07" height="12.71" fill="#FB7A56" stroke="#000" stroke-width="1.35"/>
<rect x="963.10" y="302.90" width="65.07" height="12.71" fill="#FB7A56" stroke="#000" stroke-width="1.35"/>
<rect x="1028.17" y="302.90" width="65.07" height="12.71" fill="#FB7A56" stroke="#000" stroke-width="1.35"/>
<rect x="1093.24" y="302.90" width="65.07" height="12.71" fill="#FB7A56" stroke="#000" stroke-width="1.35"/>
<rect x="1158.31" y="302.90" width="65.07" height="12.71" fill="#FB7A56" stroke="#000" stroke-width="1.35"/>
<rect x="1223.38" y="302.90" width="65.07" height="12.71" fill="#FB7A56" stroke="#000" stroke-width="1.35"/>
<rect x="1288.45" y="302.90" width="65.07" height="12.71" fill="#FB7A56" stroke="#000" stroke-width="1.35"/>
<rect x="963.10" y="315.61" width="65.07" height="12.71" fill="#FB7A56" stroke="#000" stroke-width="1.35"/>
<rect x="1028.17" y="315.61" width="65.07" height="12.71" fill="#FB7A56" stroke="#000" stroke-width="1.35"/>
<rect x="1093.24" y="315.61" width="65.07" height="12.71" fill="#FB7A56" stroke="#000" stroke-width="1.35"/>
<rect x="1158.31" y="315.61" width="65.07" height="12.71" fill="#FB7A56" stroke="#000" stroke-width="1.35"/>
<rect x="1223.38" y="315.61" width="65.07" height="12.71" fill="#FB7A56" stroke="#000" stroke-width="1.35"/>
<rect x="1288.45" y="315.61" width="65.07" height="12.71" fill="#FB7A56" stroke="#000" stroke-width="1.35"/>
<rect x="963.10" y="328.32" width="65.07" height="12.71" fill="#FB7A56" stroke="#000" stroke-width="1.35"/>
<rect x="1028.17" y="328.32" width="65.07" height="12.71" fill="#FB7A56" stroke="#000" stroke-width="1.35"/>
<rect x="1093.24" y="328.32" width="65.07" height="12.71" fill="#FB7A56" stroke="#000" stroke-width="1.35"/>
<rect x="1158.31" y="328.32" width="65.07" height="12.71" fill="#FB7A56" stroke="#000" stroke-width="1.35"/>
<rect x="1223.38" y="328.32" width="65.07" height="12.71" fill="#FB7A56" stroke="#000" stroke-width="1.35"/>
<rect x="1288.45" y="328.32" width="65.07" height="12.71" fill="#82C8BF" stroke="#000" stroke-width="1.35"/>
<rect x="963.10" y="341.03" width="65.07" height="12.71" fill="#FB7A56" stroke="#000" stroke-width="1.35"/>
<rect x="1028.17" y="341.03" width="65.07" height="12.71" fill="#FB7A56" stroke="#000" stroke-width="1.35"/>
<rect x="1093.24" y="341.03" width="65.07" height="12.71" fill="#FB7A56" stroke="#000" stroke-width="1.35"/>
<rect x="1158.31" y="341.03" width="65.07" height="12.71" fill="#FB7A56" stroke="#000" stroke-width="1.35"/>
<rect x="1223.38" y="341.03" width="65.07" height="12.71" fill="#FB7A56" stroke="#000" stroke-width="1.35"/>
<rect x="1288.45" y="341.03" width="65.07" height="12.71" fill="#82C8BF" stroke="#000" stroke-width="1.35"/>
<rect x="963.10" y="353.74" width="65.07" height="12.71" fill="#FB7A56" stroke="#000" stroke-width="1.35"/>
<rect x="1028.17" y="353.74" width="65.07" height="12.71" fill="#FB7A56" stroke="#000" stroke-width="1.35"/>
<rect x="1093.24" y="353.74" width="65.07" height="12.71" fill="#FB7A56" stroke="#000" stroke-width="1.35"/>
<rect x="1158.31" y="353.74" width="65.07" height="12.71" fill="#FB7A56" stroke="#000" stroke-width="1.35"/>
<rect x="1223.38" y="353.74" width="65.07" height="12.71" fill="#FB7A56" stroke="#000" stroke-width="1.35"/>
<rect x="1288.45" y="353.74" width="65.07" height="12.71" fill="#82C8BF" stroke="#000" stroke-width="1.35"/>
<rect x="963.10" y="366.44" width="65.07" height="12.71" fill="#FB7A56" stroke="#000" stroke-width="1.35"/>
<rect x="1028.17" y="366.44" width="65.07" height="12.71" fill="#FB7A56" stroke="#000" stroke-width="1.35"/>
<rect x="1093.24" y="366.44" width="65.07" height="12.71" fill="#FB7A56" stroke="#000" stroke-width="1.35"/>
<rect x="1158.31" y="366.44" width="65.07" height="12.71" fill="#FB7A56" stroke="#000" stroke-width="1.35"/>
<rect x="1223.38" y="366.44" width="65.07" height="12.71" fill="#FB7A56" stroke="#000" stroke-width="1.35"/>
<rect x="1288.45" y="366.44" width="65.07" height="12.71" fill="#82C8BF" stroke="#000" stroke-width="1.35"/>
<rect x="963.10" y="379.15" width="65.07" height="12.71" fill="#FB7A56" stroke="#000" stroke-width="1.35"/>
<rect x="1028.17" y="379.15" width="65.07" height="12.71" fill="#FB7A56" stroke="#000" stroke-width="1.35"/>
<rect x="1093.24" y="379.15" width="65.07" height="12.71" fill="#FB7A56" stroke="#000" stroke-width="1.35"/>
<rect x="1158.31" y="379.15" width="65.07" height="12.71" fill="#FB7A56" stroke="#000" stroke-width="1.35"/>
<rect x="1223.38" y="379.15" width="65.07" height="12.71" fill="#FB7A56" stroke="#000" stroke-width="1.35"/>
<rect x="1288.45" y="379.15" width="65.07" height="12.71" fill="#82C8BF" stroke="#000" stroke-width="1.35"/>
<rect x="963.10" y="391.86" width="65.07" height="12.71" fill="#FB7A56" stroke="#000" stroke-width="1.35"/>
<rect x="1028.17" y="391.86" width="65.07" height="12.71" fill="#FB7A56" stroke="#000" stroke-width="1.35"/>
<rect x="1093.24" y="391.86" width="65.07" height="12.71" fill="#FB7A56" stroke="#000" stroke-width="1.35"/>
<rect x="1158.31" y="391.86" width="65.07" height="12.71" fill="#FB7A56" stroke="#000" stroke-width="1.35"/>
<rect x="1223.38" y="391.86" width="65.07" height="12.71" fill="#FB7A56" stroke="#000" stroke-width="1.35"/>
<rect x="1288.45" y="391.86" width="65.07" height="12.71" fill="#82C8BF" stroke="#000" stroke-width="1.35"/>
<rect x="963.10" y="404.57" width="65.07" height="12.71" fill="#FB7A56" stroke="#000" stroke-width="1.35"/>
<rect x="1028.17" y="404.57" width="65.07" height="12.71" fill="#FB7A56" stroke="#000" stroke-width="1.35"/>
<rect x="1093.24" y="404.57" width="65.07" height="12.71" fill="#FB7A56" stroke="#000" stroke-width="1.35"/>
<rect x="1158.31" y="404.57" width="65.07" height="12.71" fill="#FB7A56" stroke="#000" stroke-width="1.35"/>
<rect x="1223.38" y="404.57" width="65.07" height="12.71" fill="#FB7A56" stroke="#000" stroke-width="1.35"/>
<rect x="1288.45" y="404.57" width="65.07" height="12.71" fill="#82C8BF" stroke="#000" stroke-width="1.35"/>
<rect x="963.10" y="417.28" width="65.07" height="12.71" fill="#FB7A56" stroke="#000" stroke-width="1.35"/>
<rect x="1028.17" y="417.28" width="65.07" height="12.71" fill="#FB7A56" stroke="#000" stroke-width="1.35"/>
<rect x="1093.24" y="417.28" width="65.07" height="12.71" fill="#FB7A56" stroke="#000" stroke-width="1.35"/>
<rect x="1158.31" y="417.28" width="65.07" height="12.71" fill="#FB7A56" stroke="#000" stroke-width="1.35"/>
<rect x="1223.38" y="417.28" width="65.07" height="12.71" fill="#FB7A56" stroke="#000" stroke-width="1.35"/>
<rect x="1288.45" y="417.28" width="65.07" height="12.71" fill="#82C8BF" stroke="#000" stroke-width="1.35"/>
<rect x="963.10" y="429.99" width="65.07" height="12.71" fill="#FB7A56" stroke="#000" stroke-width="1.35"/>
<rect x="1028.17" y="429.99" width="65.07" height="12.71" fill="#FB7A56" stroke="#000" stroke-width="1.35"/>
<rect x="1093.24" y="429.99" width="65.07" height="12.71" fill="#FB7A56" stroke="#000" stroke-width="1.35"/>
<rect x="1158.31" y="429.99" width="65.07" height="12.71" fill="#FB7A56" stroke="#000" stroke-width="1.35"/>
<rect x="1223.38" y="429.99" width="65.07" height="12.71" fill="#FB7A56" stroke="#000" stroke-width="1.35"/>
<rect x="1288.45" y="429.99" width="65.07" height="12.71" fill="#82C8BF" stroke="#000" stroke-width="1.35"/>
<rect x="963.10" y="442.70" width="65.07" height="12.71" fill="#FB7A56" stroke="#000" stroke-width="1.35"/>
<rect x="1028.17" y="442.70" width="65.07" height="12.71" fill="#FB7A56" stroke="#000" stroke-width="1.35"/>
<rect x="1093.24" y="442.70" width="65.07" height="12.71" fill="#FB7A56" stroke="#000" stroke-width="1.35"/>
<rect x="1158.31" y="442.70" width="65.07" height="12.71" fill="#FB7A56" stroke="#000" stroke-width="1.35"/>
<rect x="1223.38" y="442.70" width="65.07" height="12.71" fill="#FB7A56" stroke="#000" stroke-width="1.35"/>
<rect x="1288.45" y="442.70" width="65.07" height="12.71" fill="#82C8BF" stroke="#000" stroke-width="1.35"/>
<rect x="963.10" y="455.41" width="65.07" height="12.71" fill="#FB7A56" stroke="#000" stroke-width="1.35"/>
<rect x="1028.17" y="455.41" width="65.07" height="12.71" fill="#FB7A56" stroke="#000" stroke-width="1.35"/>
<rect x="1093.24" y="455.41" width="65.07" height="12.71" fill="#FB7A56" stroke="#000" stroke-width="1.35"/>
<rect x="1158.31" y="455.41" width="65.07" height="12.71" fill="#FB7A56" stroke="#000" stroke-width="1.35"/>
<rect x="1223.38" y="455.41" width="65.07" height="12.71" fill="#FB7A56" stroke="#000" stroke-width="1.35"/>
<rect x="1288.45" y="455.41" width="65.07" height="12.71" fill="#82C8BF" stroke="#000" stroke-width="1.35"/>
<rect x="963.10" y="468.12" width="65.07" height="12.71" fill="#FB7A56" stroke="#000" stroke-width="1.35"/>
<rect x="1028.17" y="468.12" width="65.07" height="12.71" fill="#FB7A56" stroke="#000" stroke-width="1.35"/>
<rect x="1093.24" y="468.12" width="65.07" height="12.71" fill="#FB7A56" stroke="#000" stroke-width="1.35"/>
<rect x="1158.31" y="468.12" width="65.07" height="12.71" fill="#FB7A56" stroke="#000" stroke-width="1.35"/>
<rect x="1223.38" y="468.12" width="65.07" height="12.71" fill="#FB7A56" stroke="#000" stroke-width="1.35"/>
<rect x="1288.45" y="468.12" width="65.07" height="12.71" fill="#82C8BF" stroke="#000" stroke-width="1.35"/>
<rect x="963.10" y="480.82" width="65.07" height="12.71" fill="#FB7A56" stroke="#000" stroke-width="1.35"/>
<rect x="1028.17" y="480.82" width="65.07" height="12.71" fill="#FB7A56" stroke="#000" stroke-width="1.35"/>
<rect x="1093.24" y="480.82" width="65.07" height="12.71" fill="#FB7A56" stroke="#000" stroke-width="1.35"/>
<rect x="1158.31" y="480.82" width="65.07" height="12.71" fill="#FB7A56" stroke="#000" stroke-width="1.35"/>
<rect x="1223.38" y="480.82" width="65.07" height="12.71" fill="#FB7A56" stroke="#000" stroke-width="1.35"/>
<rect x="1288.45" y="480.82" width="65.07" height="12.71" fill="#82C8BF" stroke="#000" stroke-width="1.35"/>
<rect x="963.10" y="493.53" width="65.07" height="12.71" fill="#FB7A56" stroke="#000" stroke-width="1.35"/>
<rect x="1028.17" y="493.53" width="65.07" height="12.71" fill="#FB7A56" stroke="#000" stroke-width="1.35"/>
<rect x="1093.24" y="493.53" width="65.07" height="12.71" fill="#FB7A56" stroke="#000" stroke-width="1.35"/>
<rect x="1158.31" y="493.53" width="65.07" height="12.71" fill="#FB7A56" stroke="#000" stroke-width="1.35"/>
<rect x="1223.38" y="493.53" width="65.07" height="12.71" fill="#82C8BF" stroke="#000" stroke-width="1.35"/>
<rect x="1288.45" y="493.53" width="65.07" height="12.71" fill="#82C8BF" stroke="#000" stroke-width="1.35"/>
<rect x="963.10" y="506.24" width="65.07" height="12.71" fill="#FB7A56" stroke="#000" stroke-width="1.35"/>
<rect x="1028.17" y="506.24" width="65.07" height="12.71" fill="#FB7A56" stroke="#000" stroke-width="1.35"/>
<rect x="1093.24" y="506.24" width="65.07" height="12.71" fill="#FB7A56" stroke="#000" stroke-width="1.35"/>
<rect x="1158.31" y="506.24" width="65.07" height="12.71" fill="#FB7A56" stroke="#000" stroke-width="1.35"/>
<rect x="1223.38" y="506.24" width="65.07" height="12.71" fill="#82C8BF" stroke="#000" stroke-width="1.35"/>
<rect x="1288.45" y="506.24" width="65.07" height="12.71" fill="#82C8BF" stroke="#000" stroke-width="1.35"/>
<rect x="963.10" y="518.95" width="65.07" height="12.71" fill="#FB7A56" stroke="#000" stroke-width="1.35"/>
<rect x="1028.17" y="518.95" width="65.07" height="12.71" fill="#FB7A56" stroke="#000" stroke-width="1.35"/>
<rect x="1093.24" y="518.95" width="65.07" height="12.71" fill="#FB7A56" stroke="#000" stroke-width="1.35"/>
<rect x="1158.31" y="518.95" width="65.07" height="12.71" fill="#FB7A56" stroke="#000" stroke-width="1.35"/>
<rect x="1223.38" y="518.95" width="65.07" height="12.71" fill="#82C8BF" stroke="#000" stroke-width="1.35"/>
<rect x="1288.45" y="518.95" width="65.07" height="12.71" fill="#82C8BF" stroke="#000" stroke-width="1.35"/>
<rect x="963.10" y="531.66" width="65.07" height="12.71" fill="#FB7A56" stroke="#000" stroke-width="1.35"/>
<rect x="1028.17" y="531.66" width="65.07" height="12.71" fill="#FB7A56" stroke="#000" stroke-width="1.35"/>
<rect x="1093.24" y="531.66" width="65.07" height="12.71" fill="#FB7A56" stroke="#000" stroke-width="1.35"/>
<rect x="1158.31" y="531.66" width="65.07" height="12.71" fill="#FB7A56" stroke="#000" stroke-width="1.35"/>
<rect x="1223.38" y="531.66" width="65.07" height="12.71" fill="#82C8BF" stroke="#000" stroke-width="1.35"/>
<rect x="1288.45" y="531.66" width="65.07" height="12.71" fill="#82C8BF" stroke="#000" stroke-width="1.35"/>
<rect x="963.10" y="544.37" width="65.07" height="12.71" fill="#FB7A56" stroke="#000" stroke-width="1.35"/>
<rect x="1028.17" y="544.37" width="65.07" height="12.71" fill="#FB7A56" stroke="#000" stroke-width="1.35"/>
<rect x="1093.24" y="544.37" width="65.07" height="12.71" fill="#FB7A56" stroke="#000" stroke-width="1.35"/>
<rect x="1158.31" y="544.37" width="65.07" height="12.71" fill="#FB7A56" stroke="#000" stroke-width="1.35"/>
<rect x="1223.38" y="544.37" width="65.07" height="12.71" fill="#82C8BF" stroke="#000" stroke-width="1.35"/>
<rect x="1288.45" y="544.37" width="65.07" height="12.71" fill="#82C8BF" stroke="#000" stroke-width="1.35"/>
<rect x="963.10" y="557.08" width="65.07" height="12.71" fill="#FB7A56" stroke="#000" stroke-width="1.35"/>
<rect x="1028.17" y="557.08" width="65.07" height="12.71" fill="#FB7A56" stroke="#000" stroke-width="1.35"/>
<rect x="1093.24" y="557.08" width="65.07" height="12.71" fill="#FB7A56" stroke="#000" stroke-width="1.35"/>
<rect x="1158.31" y="557.08" width="65.07" height="12.71" fill="#FB7A56" stroke="#000" stroke-width="1.35"/>
<rect x="1223.38" y="557.08" width="65.07" height="12.71" fill="#82C8BF" stroke="#000" stroke-width="1.35"/>
<rect x="1288.45" y="557.08" width="65.07" height="12.71" fill="#82C8BF" stroke="#000" stroke-width="1.35"/>
<rect x="963.10" y="569.79" width="65.07" height="12.71" fill="#FB7A56" stroke="#000" stroke-width="1.35"/>
<rect x="1028.17" y="569.79" width="65.07" height="12.71" fill="#FB7A56" stroke="#000" stroke-width="1.35"/>
<rect x="1093.24" y="569.79" width="65.07" height="12.71" fill="#FB7A56" stroke="#000" stroke-width="1.35"/>
<rect x="1158.31" y="569.79" width="65.07" height="12.71" fill="#FB7A56" stroke="#000" stroke-width="1.35"/>
<rect x="1223.38" y="569.79" width="65.07" height="12.71" fill="#82C8BF" stroke="#000" stroke-width="1.35"/>
<rect x="1288.45" y="569.79" width="65.07" height="12.71" fill="#FFFFFF" stroke="#000" stroke-width="1.35"/>
<rect x="963.10" y="582.50" width="65.07" height="12.71" fill="#FB7A56" stroke="#000" stroke-width="1.35"/>
<rect x="1028.17" y="582.50" width="65.07" height="12.71" fill="#FB7A56" stroke="#000" stroke-width="1.35"/>
<rect x="1093.24" y="582.50" width="65.07" height="12.71" fill="#FB7A56" stroke="#000" stroke-width="1.35"/>
<rect x="1158.31" y="582.50" width="65.07" height="12.71" fill="#FB7A56" stroke="#000" stroke-width="1.35"/>
<rect x="1223.38" y="582.50" width="65.07" height="12.71" fill="#82C8BF" stroke="#000" stroke-width="1.35"/>
<rect x="1288.45" y="582.50" width="65.07" height="12.71" fill="#FFFFFF" stroke="#000" stroke-width="1.35"/>
<rect x="963.10" y="595.21" width="65.07" height="12.71" fill="#FB7A56" stroke="#000" stroke-width="1.35"/>
<rect x="1028.17" y="595.21" width="65.07" height="12.71" fill="#FB7A56" stroke="#000" stroke-width="1.35"/>
<rect x="1093.24" y="595.21" width="65.07" height="12.71" fill="#FB7A56" stroke="#000" stroke-width="1.35"/>
<rect x="1158.31" y="595.21" width="65.07" height="12.71" fill="#FB7A56" stroke="#000" stroke-width="1.35"/>
<rect x="1223.38" y="595.21" width="65.07" height="12.71" fill="#82C8BF" stroke="#000" stroke-width="1.35"/>
<rect x="1288.45" y="595.21" width="65.07" height="12.71" fill="#FFFFFF" stroke="#000" stroke-width="1.35"/>
<rect x="944.5" y="163.70" width="15.100000000000023" height="24.82" fill="#6C3FA9"/>
<rect x="944.5" y="188.52" width="15.100000000000023" height="38.13" fill="#FB5D63"/>
<rect x="944.5" y="226.64" width="15.100000000000023" height="25.42" fill="#ADEB52"/>
<rect x="944.5" y="252.06" width="15.100000000000023" height="38.13" fill="#FB5D63"/>
<rect x="944.5" y="290.19" width="15.100000000000023" height="12.71" fill="#ADEB52"/>
<rect x="944.5" y="302.90" width="15.100000000000023" height="12.71" fill="#6C3FA9"/>
<rect x="944.5" y="315.61" width="15.100000000000023" height="12.71" fill="#ADEB52"/>
<rect x="944.5" y="328.32" width="15.100000000000023" height="76.25" fill="#6C3FA9"/>
<rect x="944.5" y="404.57" width="15.100000000000023" height="38.13" fill="#FB5D63"/>
<rect x="944.5" y="442.70" width="15.100000000000023" height="25.42" fill="#ADEB52"/>
<rect x="944.5" y="468.12" width="15.100000000000023" height="76.25" fill="#FB5D63"/>
<rect x="944.5" y="544.37" width="15.100000000000023" height="12.71" fill="#ADEB52"/>
<rect x="944.5" y="557.08" width="15.100000000000023" height="12.71" fill="#FB5D63"/>
<rect x="944.5" y="569.79" width="15.100000000000023" height="12.71" fill="#ADEB52"/>
<rect x="944.5" y="582.50" width="15.100000000000023" height="25.42" fill="#FB5D63"/>
<line x1="1354.8" y1="168.80" x2="1357.7" y2="168.80" stroke="#151515" stroke-width="1.2"/>
<text x="1359.8" y="172.10" font-size="10.55" class="r">M1.7</text>
<line x1="1354.8" y1="181.50" x2="1357.7" y2="181.50" stroke="#151515" stroke-width="1.2"/>
<text x="1359.8" y="184.80" font-size="10.55" class="r">M1.11</text>
<line x1="1354.8" y1="194.20" x2="1357.7" y2="194.20" stroke="#151515" stroke-width="1.2"/>
<text x="1359.8" y="197.50" font-size="10.55" class="r">M2.1</text>
<line x1="1354.8" y1="206.90" x2="1357.7" y2="206.90" stroke="#151515" stroke-width="1.2"/>
<text x="1359.8" y="210.20" font-size="10.55" class="r">M2.10</text>
<line x1="1354.8" y1="219.60" x2="1357.7" y2="219.60" stroke="#151515" stroke-width="1.2"/>
<text x="1359.8" y="222.90" font-size="10.55" class="r">M2.6</text>
<line x1="1354.8" y1="232.30" x2="1357.7" y2="232.30" stroke="#151515" stroke-width="1.2"/>
<text x="1359.8" y="235.60" font-size="10.55" class="r">M3.10</text>
<line x1="1354.8" y1="245.00" x2="1357.7" y2="245.00" stroke="#151515" stroke-width="1.2"/>
<text x="1359.8" y="248.30" font-size="10.55" class="r">M3.7</text>
<line x1="1354.8" y1="257.70" x2="1357.7" y2="257.70" stroke="#151515" stroke-width="1.2"/>
<text x="1359.8" y="261.00" font-size="10.55" class="r">M4.10</text>
<line x1="1354.8" y1="270.40" x2="1357.7" y2="270.40" stroke="#151515" stroke-width="1.2"/>
<text x="1359.8" y="273.70" font-size="10.55" class="r">M4.9</text>
<line x1="1354.8" y1="283.10" x2="1357.7" y2="283.10" stroke="#151515" stroke-width="1.2"/>
<text x="1359.8" y="286.40" font-size="10.55" class="r">M4.7</text>
<line x1="1354.8" y1="295.80" x2="1357.7" y2="295.80" stroke="#151515" stroke-width="1.2"/>
<text x="1359.8" y="299.10" font-size="10.55" class="r">M3.5</text>
<line x1="1354.8" y1="308.50" x2="1357.7" y2="308.50" stroke="#151515" stroke-width="1.2"/>
<text x="1359.8" y="311.80" font-size="10.55" class="r">M1.1</text>
<line x1="1354.8" y1="321.20" x2="1357.7" y2="321.20" stroke="#151515" stroke-width="1.2"/>
<text x="1359.8" y="324.50" font-size="10.55" class="r">M3.2</text>
<line x1="1354.8" y1="333.90" x2="1357.7" y2="333.90" stroke="#151515" stroke-width="1.2"/>
<text x="1359.8" y="337.20" font-size="10.55" class="r">M1.6</text>
<line x1="1354.8" y1="346.60" x2="1357.7" y2="346.60" stroke="#151515" stroke-width="1.2"/>
<text x="1359.8" y="349.90" font-size="10.55" class="r">M1.9</text>
<line x1="1354.8" y1="359.30" x2="1357.7" y2="359.30" stroke="#151515" stroke-width="1.2"/>
<text x="1359.8" y="362.60" font-size="10.55" class="r">M1.5</text>
<line x1="1354.8" y1="372.00" x2="1357.7" y2="372.00" stroke="#151515" stroke-width="1.2"/>
<text x="1359.8" y="375.30" font-size="10.55" class="r">M1.4</text>
<line x1="1354.8" y1="384.70" x2="1357.7" y2="384.70" stroke="#151515" stroke-width="1.2"/>
<text x="1359.8" y="388.00" font-size="10.55" class="r">M1.3</text>
<line x1="1354.8" y1="397.40" x2="1357.7" y2="397.40" stroke="#151515" stroke-width="1.2"/>
<text x="1359.8" y="400.70" font-size="10.55" class="r">M1.2</text>
<line x1="1354.8" y1="410.10" x2="1357.7" y2="410.10" stroke="#151515" stroke-width="1.2"/>
<text x="1359.8" y="413.40" font-size="10.55" class="r">M2.9</text>
<line x1="1354.8" y1="422.80" x2="1357.7" y2="422.80" stroke="#151515" stroke-width="1.2"/>
<text x="1359.8" y="426.10" font-size="10.55" class="r">M2.8</text>
<line x1="1354.8" y1="435.50" x2="1357.7" y2="435.50" stroke="#151515" stroke-width="1.2"/>
<text x="1359.8" y="438.80" font-size="10.55" class="r">M2.2</text>
<line x1="1354.8" y1="448.20" x2="1357.7" y2="448.20" stroke="#151515" stroke-width="1.2"/>
<text x="1359.8" y="451.50" font-size="10.55" class="r">M3.9</text>
<line x1="1354.8" y1="460.90" x2="1357.7" y2="460.90" stroke="#151515" stroke-width="1.2"/>
<text x="1359.8" y="464.20" font-size="10.55" class="r">M3.8</text>
<line x1="1354.8" y1="473.60" x2="1357.7" y2="473.60" stroke="#151515" stroke-width="1.2"/>
<text x="1359.8" y="476.90" font-size="10.55" class="r">M4.8</text>
<line x1="1354.8" y1="486.30" x2="1357.7" y2="486.30" stroke="#151515" stroke-width="1.2"/>
<text x="1359.8" y="489.60" font-size="10.55" class="r">M4.6</text>
<line x1="1354.8" y1="499.00" x2="1357.7" y2="499.00" stroke="#151515" stroke-width="1.2"/>
<text x="1359.8" y="502.30" font-size="10.55" class="r">M2.7</text>
<line x1="1354.8" y1="511.70" x2="1357.7" y2="511.70" stroke="#151515" stroke-width="1.2"/>
<text x="1359.8" y="515.00" font-size="10.55" class="r">M2.12</text>
<line x1="1354.8" y1="524.40" x2="1357.7" y2="524.40" stroke="#151515" stroke-width="1.2"/>
<text x="1359.8" y="527.70" font-size="10.55" class="r">M2.5</text>
<line x1="1354.8" y1="537.10" x2="1357.7" y2="537.10" stroke="#151515" stroke-width="1.2"/>
<text x="1359.8" y="540.40" font-size="10.55" class="r">M2.4</text>
<line x1="1354.8" y1="549.80" x2="1357.7" y2="549.80" stroke="#151515" stroke-width="1.2"/>
<text x="1359.8" y="553.10" font-size="10.55" class="r">M3.11</text>
<line x1="1354.8" y1="562.50" x2="1357.7" y2="562.50" stroke="#151515" stroke-width="1.2"/>
<text x="1359.8" y="565.80" font-size="10.55" class="r">M4.12</text>
<line x1="1354.8" y1="575.20" x2="1357.7" y2="575.20" stroke="#151515" stroke-width="1.2"/>
<text x="1359.8" y="578.50" font-size="10.55" class="r">M3.12</text>
<line x1="1354.8" y1="587.90" x2="1357.7" y2="587.90" stroke="#151515" stroke-width="1.2"/>
<text x="1359.8" y="591.20" font-size="10.55" class="r">M2.11</text>
<line x1="1354.8" y1="600.60" x2="1357.7" y2="600.60" stroke="#151515" stroke-width="1.2"/>
<text x="1359.8" y="603.90" font-size="10.55" class="r">M4.11</text>
<line x1="995.63" y1="607.91" x2="995.63" y2="612.41" stroke="#151515" stroke-width="1.2"/>
<text transform="translate(995.63,619.41) rotate(-45)" text-anchor="end" font-size="10.72" dy="0.35em">Metronidazole</text>
<line x1="1060.70" y1="607.91" x2="1060.70" y2="612.41" stroke="#151515" stroke-width="1.2"/>
<text transform="translate(1060.70,619.41) rotate(-45)" text-anchor="end" font-size="10.72" dy="0.35em">Sulphamethoxazole</text>
<line x1="1125.78" y1="607.91" x2="1125.78" y2="612.41" stroke="#151515" stroke-width="1.2"/>
<text transform="translate(1125.78,619.41) rotate(-45)" text-anchor="end" font-size="10.72" dy="0.35em">Cefazolin</text>
<line x1="1190.85" y1="607.91" x2="1190.85" y2="612.41" stroke="#151515" stroke-width="1.2"/>
<text transform="translate(1190.85,619.41) rotate(-45)" text-anchor="end" font-size="10.72" dy="0.35em">Amoxicillin</text>
<line x1="1255.91" y1="607.91" x2="1255.91" y2="612.41" stroke="#151515" stroke-width="1.2"/>
<text transform="translate(1255.91,619.41) rotate(-45)" text-anchor="end" font-size="10.72" dy="0.35em">Gentamicin</text>
<line x1="1320.99" y1="607.91" x2="1320.99" y2="612.41" stroke="#151515" stroke-width="1.2"/>
<text transform="translate(1320.99,619.41) rotate(-45)" text-anchor="end" font-size="10.72" dy="0.35em">Neomycin</text>
<path d="M963.1,271.15 H909.7 V312.43 H963.1" fill="none" stroke="#000" stroke-width="2.0" stroke-linejoin="miter" stroke-linecap="square"/>
<path d="M909.7,291.79 H856.6 V474.47 H963.1" fill="none" stroke="#000" stroke-width="2.0" stroke-linejoin="miter" stroke-linecap="square"/>
<path d="M963.1,551.12 H909.7 V592.03 H963.1" fill="none" stroke="#000" stroke-width="2.0" stroke-linejoin="miter" stroke-linecap="square"/>
<path d="M856.6,383.13 H813.0 V571.58 H909.7" fill="none" stroke="#000" stroke-width="2.0" stroke-linejoin="miter" stroke-linecap="square"/>
<path d="M963.3000000000001,169.45 V283.84" fill="none" stroke="#000" stroke-width="2.0" stroke-linejoin="miter" stroke-linecap="square"/>
<path d="M963.3000000000001,296.54 V321.96" fill="none" stroke="#000" stroke-width="2.0" stroke-linejoin="miter" stroke-linecap="square"/>
<path d="M963.3000000000001,334.67 V487.18" fill="none" stroke="#000" stroke-width="2.0" stroke-linejoin="miter" stroke-linecap="square"/>
<path d="M963.3000000000001,499.89 V563.43" fill="none" stroke="#000" stroke-width="2.0" stroke-linejoin="miter" stroke-linecap="square"/>
<path d="M963.3000000000001,576.14 V601.56" fill="none" stroke="#000" stroke-width="2.0" stroke-linejoin="miter" stroke-linecap="square"/>
<path d="M1133.91,163.1 V62.0 H1255.91 V163.1" fill="none" stroke="#000" stroke-width="2.0" stroke-linejoin="miter" stroke-linecap="square"/>
<path d="M1194.91,62.0 V4.3 H1320.99 V163.1" fill="none" stroke="#000" stroke-width="2.0" stroke-linejoin="miter" stroke-linecap="square"/>
<path d="M995.63,162.79999999999998 H1190.85" fill="none" stroke="#000" stroke-width="2.0" stroke-linejoin="miter" stroke-linecap="square"/>
<rect x="635.8" y="191.7" width="16.6" height="158.1" fill="url(#cg)"/>
<text x="617.3" y="184.5" font-size="11.0" font-weight="bold">ChiPlot</text>
<line x1="632.5999999999999" y1="191.90" x2="635.8" y2="191.90" stroke="#151515" stroke-width="1.2"/>
<text x="631.1999999999999" y="196.13" font-size="12.1" text-anchor="end" class="r">2</text>
<line x1="632.5999999999999" y1="231.10" x2="635.8" y2="231.10" stroke="#151515" stroke-width="1.2"/>
<text x="631.1999999999999" y="235.23" font-size="12.1" text-anchor="end" class="r">1.5</text>
<line x1="632.5999999999999" y1="270.30" x2="635.8" y2="270.30" stroke="#151515" stroke-width="1.2"/>
<text x="631.1999999999999" y="274.33" font-size="12.1" text-anchor="end" class="r">1</text>
<line x1="632.5999999999999" y1="309.50" x2="635.8" y2="309.50" stroke="#151515" stroke-width="1.2"/>
<text x="631.1999999999999" y="313.43" font-size="12.1" text-anchor="end" class="r">0.5</text>
<line x1="632.5999999999999" y1="348.70" x2="635.8" y2="348.70" stroke="#151515" stroke-width="1.2"/>
<text x="631.1999999999999" y="352.53" font-size="12.1" text-anchor="end" class="r">0</text>
<rect x="1445" y="186.1" width="15.9" height="159.8" fill="url(#cg)"/>
<text x="1427.3" y="178.8" font-size="10.3" font-weight="bold">ChiPlot</text>
<line x1="1441.8" y1="186.40" x2="1445" y2="186.40" stroke="#151515" stroke-width="1.2"/>
<text x="1440.4" y="190.42" font-size="11.8" text-anchor="end" class="r">2</text>
<line x1="1441.8" y1="226.15" x2="1445" y2="226.15" stroke="#151515" stroke-width="1.2"/>
<text x="1440.4" y="230.02" font-size="11.8" text-anchor="end" class="r">1.5</text>
<line x1="1441.8" y1="265.90" x2="1445" y2="265.90" stroke="#151515" stroke-width="1.2"/>
<text x="1440.4" y="269.62" font-size="11.8" text-anchor="end" class="r">1</text>
<line x1="1441.8" y1="305.65" x2="1445" y2="305.65" stroke="#151515" stroke-width="1.2"/>
<text x="1440.4" y="309.22" font-size="11.8" text-anchor="end" class="r">0.5</text>
<line x1="1441.8" y1="345.40" x2="1445" y2="345.40" stroke="#151515" stroke-width="1.2"/>
<text x="1440.4" y="348.82" font-size="11.8" text-anchor="end" class="r">0</text>
<text x="650.6" y="401.8" font-size="12.3" font-weight="bold">Genus</text>
<rect x="630.8" y="409.80" width="19.6" height="19.6" rx="2" fill="#6C3FA9"/>
<text x="655.2" y="423.66" font-size="12.4" class="l">Hemipyrellia</text>
<rect x="630.8" y="433.43" width="19.6" height="19.6" rx="2" fill="#EC4197"/>
<text x="655.2" y="447.29" font-size="12.4" class="l">Synthesiomyia</text>
<rect x="630.8" y="457.06" width="19.6" height="19.6" rx="2" fill="#FF8C3A"/>
<text x="655.2" y="470.92" font-size="12.4" class="l">Chrysomya</text>
<rect x="630.8" y="480.69" width="19.6" height="19.6" rx="2" fill="#ADEB52"/>
<text x="655.2" y="494.55" font-size="12.4" class="l">Sarcophagidae</text>
<text x="1462.4" y="416.3" font-size="12.0" font-weight="bold">Genus</text>
<rect x="1443.4" y="424.00" width="18.7" height="19.6" rx="2" fill="#6C3FA9"/>
<text x="1467" y="437.58" font-size="11.9" class="l">Hemipyrellia</text>
<rect x="1443.4" y="447.90" width="18.7" height="19.6" rx="2" fill="#FB5D63"/>
<text x="1467" y="461.48" font-size="11.9" class="l">Tabanus</text>
<rect x="1443.4" y="471.80" width="18.7" height="19.6" rx="2" fill="#ADEB52"/>
<text x="1467" y="485.38" font-size="11.9" class="l">Chrysomya</text>
<text transform="translate(2.6,723.4) scale(0.94,1.015)" font-size="26.5" font-weight="bold" font-family="'Liberation Serif',serif" style="fill:#000;stroke:none">A</text>
<text transform="translate(807.8,724.7) scale(0.92,1)" font-size="26" font-weight="bold" font-family="'Liberation Serif',serif" style="fill:#000;stroke:none">B</text>
</svg>
</body></html>
